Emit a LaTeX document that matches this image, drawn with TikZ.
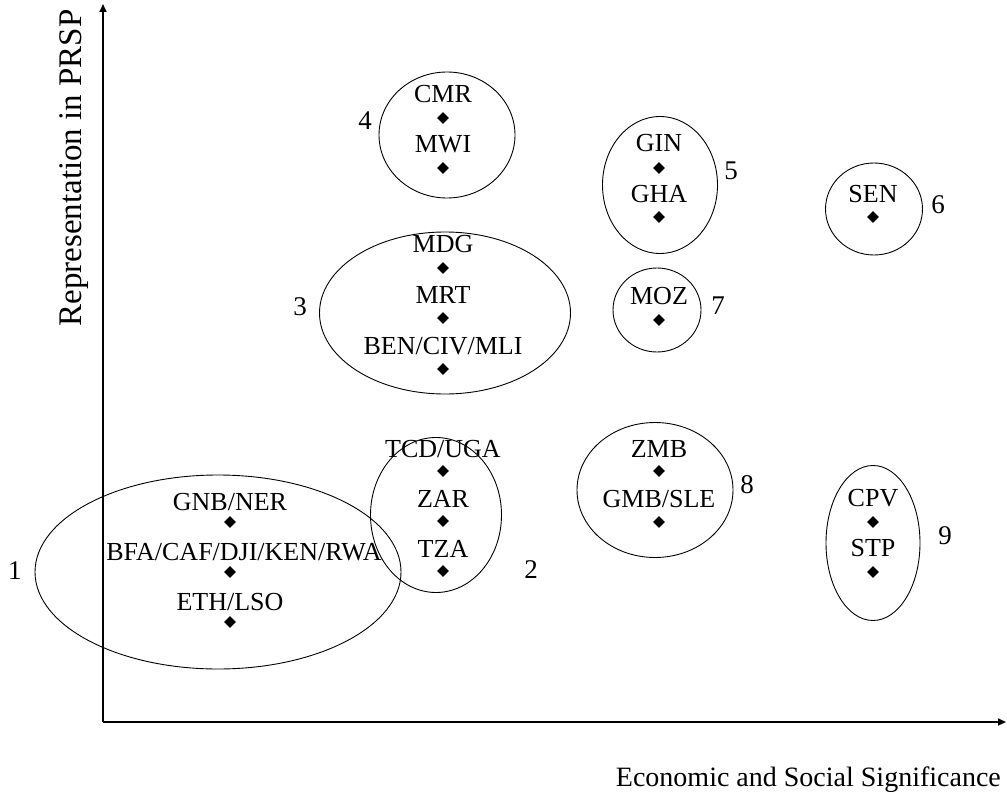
\documentclass[tikz,border=0pt]{standalone}
\usepackage{fontspec}
\setmainfont{Liberation Serif}
\usetikzlibrary{arrows.meta,shapes.geometric}
\tikzset{
  axisline/.style={
    -{Triangle[length=8pt,width=7pt]},
    line width=1.6pt,
    draw=black
  },
  cluster/.style={
    draw=black,
    ellipse,
    line width=0.9pt,
    inner sep=0pt
  },
  country/.style={
    diamond,
    fill=black,
    inner sep=0pt,
    minimum size=12pt
  },
  code/.style={
    anchor=base,
    inner sep=0pt,
    font=\fontsize{26}{30}\selectfont
  },
  groupno/.style={
    inner sep=0pt,
    font=\fontsize{27}{30}\selectfont
  },
  axistitle/.style={
    inner sep=0pt,
    font=\fontsize{28}{32}\selectfont
  }
}
\begin{document}
\begin{tikzpicture}[x=1pt,y=-1pt]
  \useasboundingbox (0,0) rectangle (1007,797);

  % axes
  \coordinate (origin) at (103,722);
  \coordinate (ytop) at (103,4);
  \coordinate (xend) at (1006,722);
  \draw[axisline] (origin) -- (ytop);
  \draw[axisline] (origin) -- (xend);
  \node[axistitle, rotate=90, font=\fontsize{33}{36}\selectfont] (ytitle) at (74,168) {Representation in PRSP};
  \node[axistitle, anchor=base east] (xtitle) at (1001,786) {Economic and Social Significance};

  % group 1
  \node[cluster, minimum width=366pt, minimum height=194pt] (g1) at (218,572) {};
  \node[groupno] (n1) at (15,571) {1};
  \node[country] (gnb) at (230,522) {};
  \node[country] (bfa) at (230,572) {};
  \node[country] (eth) at (230,622) {};
  \node[code] at (230,510) {GNB/NER};
  \node[code] at (244,560) {BFA/CAF/DJI/KEN/RWA};
  \node[code] at (230,610) {ETH/LSO};

  % group 2
  \node[cluster, minimum width=131pt, minimum height=155pt] (g2) at (436,515) {};
  \node[groupno] (n2) at (531,570) {2};
  \node[country] (tcd) at (443,471) {};
  \node[country] (zar) at (443,521) {};
  \node[country] (tza) at (443,571) {};
  \node[code] at (443,457) {TCD/UGA};
  \node[code] at (443,507) {ZAR};
  \node[code] at (443,557) {TZA};

  % group 3
  \node[cluster, minimum width=251pt, minimum height=162pt] (g3) at (445,313) {};
  \node[groupno] (n3) at (300,307) {3};
  \node[country] (mdg) at (443,268) {};
  \node[country] (mrt) at (443,318) {};
  \node[country] (ben) at (443,369) {};
  \node[code] at (443,252) {MDG};
  \node[code] at (443,303) {MRT};
  \node[code] at (443,354) {BEN/CIV/MLI};

  % group 4
  \node[cluster, minimum width=136pt, minimum height=126pt] (g4) at (447,135) {};
  \node[groupno] (n4) at (365,121) {4};
  \node[country] (cmr) at (443,118) {};
  \node[country] (mwi) at (443,168) {};
  \node[code] at (443,103) {CMR};
  \node[code] at (443,153) {MWI};

  % group 5
  \node[cluster, minimum width=115pt, minimum height=137pt] (g5) at (660,185) {};
  \node[groupno] (n5) at (731,171) {5};
  \node[country] (gin) at (659,168) {};
  \node[country] (gha) at (659,217) {};
  \node[code] at (659,152) {GIN};
  \node[code] at (659,202) {GHA};

  % group 6
  \node[cluster, minimum width=97pt, minimum height=92pt] (g6) at (874,209) {};
  \node[groupno] (n6) at (938,205) {6};
  \node[country] (sen) at (873,217) {};
  \node[code] at (873,202) {SEN};

  % group 7
  \node[cluster, minimum width=88pt, minimum height=84pt] (g7) at (657,310) {};
  \node[groupno] (n7) at (718,306) {7};
  \node[country] (moz) at (659,320) {};
  \node[code] at (659,304) {MOZ};

  % group 8
  \node[cluster, minimum width=156pt, minimum height=135pt] (g8) at (655,490) {};
  \node[groupno] (n8) at (747,485) {8};
  \node[country] (zmb) at (659,471) {};
  \node[country] (gmb) at (659,522) {};
  \node[code] at (659,457) {ZMB};
  \node[code] at (659,507) {GMB/SLE};

  % group 9
  \node[cluster, minimum width=94pt, minimum height=155pt] (g9) at (873,543) {};
  \node[groupno] (n9) at (945,536) {9};
  \node[country] (cpv) at (873,522) {};
  \node[country] (stp) at (873,572) {};
  \node[code] at (873,506) {CPV};
  \node[code] at (873,556) {STP};
\end{tikzpicture}
\end{document}
